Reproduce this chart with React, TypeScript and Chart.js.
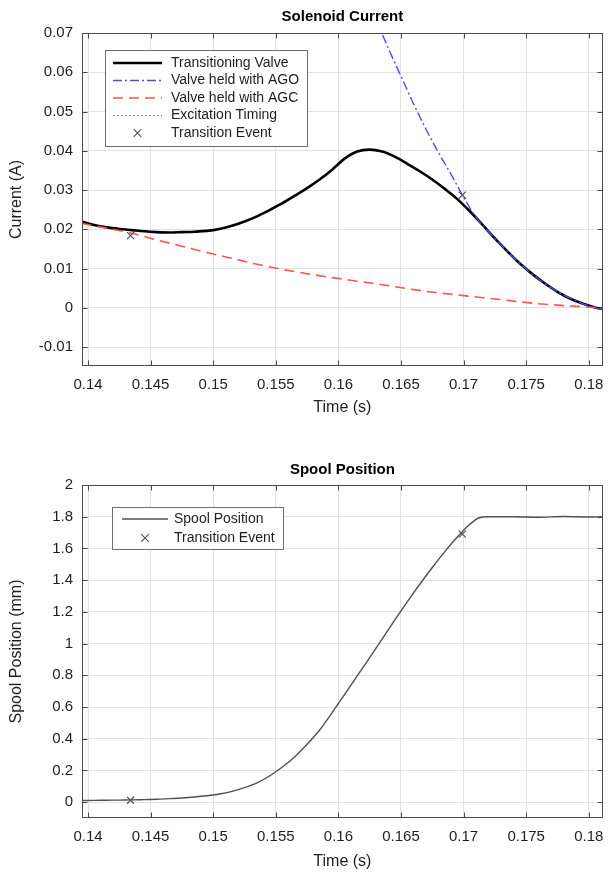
import React, { useEffect, useRef } from "react";
import { Chart, registerables } from "chart.js";

Chart.register(...registerables);

const FONT = "'Liberation Sans', Arial, Helvetica, sans-serif";
const AXIS_COLOR = "#4a4a4a";
const GRID_COLOR = "#e2e2e2";
const TEXT_COLOR = "#1e1e1e";

// ---- shared time axis ----
const timeMin = 0.13952;
const timeMax = 0.18112;
const timeTicks = [0.14, 0.145, 0.15, 0.155, 0.16, 0.165, 0.17, 0.175, 0.18];
const timeTickLabels = ["0.14", "0.145", "0.15", "0.155", "0.16", "0.165", "0.17", "0.175", "0.18"];

// ---- solenoid current axis ----
const currentMin = -0.0148;
const currentMax = 0.07;
const currentTicks = [-0.01, 0, 0.01, 0.02, 0.03, 0.04, 0.05, 0.06, 0.07];
const currentTickLabels = ["-0.01", "0", "0.01", "0.02", "0.03", "0.04", "0.05", "0.06", "0.07"];

// ---- spool position axis ----
const spoolMin = -0.1;
const spoolMax = 2;
const spoolTicks = [0, 0.2, 0.4, 0.6, 0.8, 1, 1.2, 1.4, 1.6, 1.8, 2];
const spoolTickLabels = ["0", "0.2", "0.4", "0.6", "0.8", "1", "1.2", "1.4", "1.6", "1.8", "2"];

// ---- Transitioning Valve current ----
const timeTransitioning = [
  0.1395, 0.1405, 0.1415, 0.1425, 0.1435, 0.1445, 0.1455, 0.1465, 0.1475, 0.1485,
  0.1495, 0.1505, 0.1515, 0.1525, 0.1535, 0.1545, 0.1555, 0.1565, 0.1575, 0.1585,
  0.1595, 0.1605, 0.1615, 0.1625, 0.1635, 0.1645, 0.1655, 0.1665, 0.1675, 0.1685,
  0.1695, 0.1705, 0.1715, 0.1725, 0.1735, 0.1745, 0.1755, 0.1765, 0.1775, 0.1785,
  0.1795, 0.1805, 0.1811,
];
const currentTransitioning = [
  0.0220, 0.0211, 0.0205, 0.0201, 0.0198, 0.0195, 0.0193, 0.0192, 0.0193, 0.0194,
  0.0196, 0.0201, 0.0209, 0.0220, 0.0233, 0.0249, 0.0266, 0.0285, 0.0305, 0.0327,
  0.0352, 0.0380, 0.0398, 0.0403, 0.0398, 0.0385, 0.0367, 0.0348, 0.0327, 0.0303,
  0.0277, 0.0246, 0.0212, 0.0177, 0.0144, 0.0113, 0.0086, 0.0062, 0.0041, 0.0024,
  0.0011, 0.0001, -0.0003,
];

// ---- Valve held with AGO ----
const timeAgo = [
  0.1630, 0.1640, 0.1650, 0.1660, 0.1670, 0.1680, 0.1690, 0.1700, 0.1710, 0.1720,
  0.1730, 0.1740, 0.1750, 0.1760, 0.1770, 0.1780, 0.1790, 0.1800, 0.1811,
];
const currentAgo = [
  0.0735, 0.0660, 0.0590, 0.0520, 0.0455, 0.0395, 0.0340, 0.0282, 0.0230, 0.0194,
  0.0160, 0.0128, 0.0099, 0.0073, 0.0051, 0.0033, 0.0018, 0.0005, -0.0004,
];

// ---- Valve held with AGC ----
const timeAgc = [
  0.1395, 0.1415, 0.1435, 0.1455, 0.1475, 0.1495, 0.1515, 0.1535, 0.1555, 0.1575,
  0.1595, 0.1615, 0.1635, 0.1655, 0.1675, 0.1695, 0.1715, 0.1735, 0.1755, 0.1775,
  0.1795, 0.1811,
];
const currentAgc = [
  0.0215, 0.0203, 0.0190, 0.0173, 0.0157, 0.0141, 0.0126, 0.0111, 0.0098, 0.0087,
  0.0077, 0.0068, 0.0059, 0.0049, 0.0040, 0.0033, 0.0026, 0.0019, 0.0012, 0.0007,
  0.0003, 0.0000,
];

// ---- Excitation Timing (no visible samples in range) ----
const timeExcitation: number[] = [];
const currentExcitation: number[] = [];

// ---- Transition events ----
const timeEvents = [0.1434, 0.1699];
const currentEvents = [0.0184, 0.0287];
const spoolEvents = [0.012, 1.69];

// ---- Spool position ----
const timeSpool = [
  0.1395, 0.1405, 0.1415, 0.1425, 0.1435, 0.1445, 0.1455, 0.1465, 0.1475, 0.1485,
  0.1495, 0.1505, 0.1515, 0.1525, 0.1535, 0.1545, 0.1555, 0.1565, 0.1575, 0.1585,
  0.1595, 0.1605, 0.1615, 0.1625, 0.1635, 0.1645, 0.1655, 0.1665, 0.1675, 0.1685,
  0.1695, 0.1705, 0.1712, 0.1720, 0.1740, 0.1760, 0.1780, 0.1800, 0.1811,
];
const spoolPosition = [
  0.010, 0.011, 0.012, 0.013, 0.014, 0.016, 0.018, 0.022, 0.026, 0.032,
  0.040, 0.051, 0.068, 0.092, 0.122, 0.165, 0.220, 0.285, 0.365, 0.455,
  0.565, 0.680, 0.796, 0.912, 1.030, 1.148, 1.263, 1.374, 1.480, 1.580,
  1.672, 1.752, 1.792, 1.800, 1.800, 1.797, 1.801, 1.798, 1.800,
];

const pts = (xs: number[], ys: number[]) => xs.map((x, i) => ({ x, y: ys[i] }));

const frameLegendPlugin = {
  id: "frameLegend",
  afterDraw(chart: any, _args: any, opts: any) {
    const { ctx, chartArea: a } = chart;
    const xs = chart.scales.x;
    const ys = chart.scales.y;
    ctx.save();
    ctx.setLineDash([]);
    ctx.strokeStyle = AXIS_COLOR;
    ctx.lineWidth = 1;
    const L = Math.round(a.left) + 0.5;
    const R = Math.round(a.right) - 0.5;
    const T = Math.round(a.top) + 0.5;
    const B = Math.round(a.bottom) - 0.5;
    ctx.beginPath();
    xs.ticks.forEach((t: any) => {
      const p = Math.round(xs.getPixelForValue(t.value)) + 0.5;
      ctx.moveTo(p, B);
      ctx.lineTo(p, B - 5);
      ctx.moveTo(p, T);
      ctx.lineTo(p, T + 5);
    });
    ys.ticks.forEach((t: any) => {
      const p = Math.round(ys.getPixelForValue(t.value)) + 0.5;
      ctx.moveTo(L, p);
      ctx.lineTo(L + 5, p);
      ctx.moveTo(R, p);
      ctx.lineTo(R - 5, p);
    });
    ctx.stroke();
    ctx.strokeRect(L, T, R - L, B - T);

    const lg = opts && opts.box;
    if (lg) {
      const bx = Math.round(a.left + lg.x);
      const by = Math.round(a.top + lg.y);
      ctx.fillStyle = "#ffffff";
      ctx.fillRect(bx, by, lg.w, lg.h);
      ctx.strokeStyle = "#6e6e6e";
      ctx.lineWidth = 1;
      ctx.strokeRect(bx + 0.5, by + 0.5, lg.w, lg.h);
      ctx.font = `14px ${FONT}`;
      ctx.textBaseline = "middle";
      ctx.textAlign = "left";
      chart.data.datasets.forEach((ds: any, i: number) => {
        const cy = by + lg.firstRow + i * lg.rowGap;
        const x1 = bx + lg.lineX1;
        const x2 = bx + lg.lineX2;
        if (ds.showLine === false) {
          const cx = (x1 + x2) / 2;
          const r = 3.8;
          ctx.setLineDash([]);
          ctx.strokeStyle = ds.pointBorderColor;
          ctx.lineWidth = ds.pointBorderWidth;
          ctx.beginPath();
          ctx.moveTo(cx - r, cy - r);
          ctx.lineTo(cx + r, cy + r);
          ctx.moveTo(cx + r, cy - r);
          ctx.lineTo(cx - r, cy + r);
          ctx.stroke();
        } else {
          ctx.setLineDash(ds.borderDash || []);
          ctx.strokeStyle = ds.borderColor;
          ctx.lineWidth = ds.borderWidth;
          ctx.beginPath();
          ctx.moveTo(x1, cy);
          ctx.lineTo(x2, cy);
          ctx.stroke();
        }
        ctx.setLineDash([]);
        ctx.fillStyle = TEXT_COLOR;
        ctx.fillText(ds.label, bx + lg.textX, cy);
      });
    }
    ctx.restore();
  },
};

function xScaleOptions(axisHeight: number, titlePadBottom: number) {
  return {
    type: "linear",
    min: timeMin,
    max: timeMax,
    afterBuildTicks: (s: any) => {
      s.ticks = timeTicks.map((v) => ({ value: v }));
    },
    afterFit: (s: any) => {
      s.height = axisHeight;
      s.paddingLeft = 0;
      s.paddingRight = 0;
    },
    ticks: {
      autoSkip: false,
      maxRotation: 0,
      minRotation: 0,
      padding: 10,
      color: TEXT_COLOR,
      font: { family: FONT, size: 15 },
      callback: (_v: any, i: number) => timeTickLabels[i],
    },
    grid: { color: GRID_COLOR, drawTicks: false, lineWidth: 1 },
    border: { display: false },
    title: {
      display: true,
      text: "Time (s)",
      color: TEXT_COLOR,
      font: { family: FONT, size: 16 },
      padding: { top: 0, bottom: titlePadBottom },
    },
  };
}

function yScaleOptions(min: number, max: number, ticks: number[], labels: string[], title: string) {
  return {
    type: "linear",
    min,
    max,
    afterBuildTicks: (s: any) => {
      s.ticks = ticks.map((v) => ({ value: v }));
    },
    afterFit: (s: any) => {
      s.width = 82;
      s.paddingTop = 0;
      s.paddingBottom = 0;
    },
    ticks: {
      autoSkip: false,
      padding: 9,
      color: TEXT_COLOR,
      font: { family: FONT, size: 15 },
      callback: (_v: any, i: number) => labels[i],
    },
    grid: { color: GRID_COLOR, drawTicks: false, lineWidth: 1 },
    border: { display: false },
    title: {
      display: true,
      text: title,
      color: TEXT_COLOR,
      font: { family: FONT, size: 16 },
      padding: { top: 7, bottom: 0 },
    },
  };
}

const lineBase = {
  pointRadius: 0,
  pointHoverRadius: 0,
  fill: false,
  cubicInterpolationMode: "monotone",
};

const eventBase = {
  showLine: false,
  pointStyle: "crossRot",
  pointRadius: 5,
  pointHoverRadius: 5,
  pointBorderColor: "#555555",
  pointBorderWidth: 1.2,
  borderColor: "#555555",
  backgroundColor: "#555555",
};

function CurrentChart() {
  const ref = useRef<HTMLCanvasElement | null>(null);
  useEffect(() => {
    if (!ref.current) return;
    const chart = new Chart(ref.current, {
      type: "line",
      data: {
        datasets: [
          {
            ...lineBase,
            label: "Transitioning Valve",
            data: pts(timeTransitioning, currentTransitioning),
            borderColor: "#000000",
            borderWidth: 2.6,
            order: 3,
          },
          {
            ...lineBase,
            label: "Valve held with AGO",
            data: pts(timeAgo, currentAgo),
            borderColor: "#4b4bff",
            borderWidth: 1.4,
            borderDash: [9, 3, 2, 3],
            order: 1,
          },
          {
            ...lineBase,
            label: "Valve held with AGC",
            data: pts(timeAgc, currentAgc),
            borderColor: "#ff5252",
            borderWidth: 1.6,
            borderDash: [10, 6],
            order: 2,
          },
          {
            ...lineBase,
            label: "Excitation Timing",
            data: pts(timeExcitation, currentExcitation),
            borderColor: "#666666",
            borderWidth: 1.2,
            borderDash: [1.5, 2.5],
            order: 4,
          },
          {
            ...eventBase,
            label: "Transition Event",
            data: pts(timeEvents, currentEvents),
            order: 0,
          },
        ],
      } as any,
      options: {
        animation: false,
        responsive: false,
        events: [],
        layout: { padding: { top: 0, right: 5, left: 0, bottom: 0 } },
        scales: {
          x: xScaleOptions(64, 12.4),
          y: yScaleOptions(currentMin, currentMax, currentTicks, currentTickLabels, "Current (A)"),
        } as any,
        plugins: {
          legend: { display: false },
          tooltip: { enabled: false },
          title: {
            display: true,
            text: "Solenoid Current",
            fullSize: false,
            color: "#000000",
            font: { family: FONT, size: 15, weight: "bold" },
            padding: { top: 8, bottom: 7 },
          },
          frameLegend: {
            box: { x: 23, y: 17, w: 202, h: 96, firstRow: 13, rowGap: 17.5, lineX1: 8, lineX2: 57, textX: 66 },
          },
        } as any,
      },
      plugins: [frameLegendPlugin],
    } as any);
    return () => chart.destroy();
  }, []);
  return <canvas ref={ref} width={609} height={430} style={{ display: "block" }} />;
}

function SpoolChart() {
  const ref = useRef<HTMLCanvasElement | null>(null);
  useEffect(() => {
    if (!ref.current) return;
    const chart = new Chart(ref.current, {
      type: "line",
      data: {
        datasets: [
          {
            ...lineBase,
            label: "Spool Position",
            data: pts(timeSpool, spoolPosition),
            borderColor: "#505050",
            borderWidth: 1.4,
            order: 1,
          },
          {
            ...eventBase,
            label: "Transition Event",
            data: pts(timeEvents, spoolEvents),
            order: 0,
          },
        ],
      } as any,
      options: {
        animation: false,
        responsive: false,
        events: [],
        layout: { padding: { top: 23, right: 5, left: 0, bottom: 0 } },
        scales: {
          x: xScaleOptions(58, 4.4),
          y: yScaleOptions(spoolMin, spoolMax, spoolTicks, spoolTickLabels, "Spool Position (mm)"),
        } as any,
        plugins: {
          legend: { display: false },
          tooltip: { enabled: false },
          title: {
            display: true,
            text: "Spool Position",
            fullSize: false,
            color: "#000000",
            font: { family: FONT, size: 15, weight: "bold" },
            padding: { top: 8, bottom: 6 },
          },
          frameLegend: {
            box: { x: 30, y: 22, w: 171, h: 42, firstRow: 12, rowGap: 19, lineX1: 10, lineX2: 56, textX: 62 },
          },
        } as any,
      },
      plugins: [frameLegendPlugin],
    } as any);
    return () => chart.destroy();
  }, []);
  return <canvas ref={ref} width={609} height={446} style={{ display: "block" }} />;
}

export default function App() {
  return (
    <div style={{ position: "absolute", left: 0, top: 0, width: 609, height: 876, background: "#ffffff" }}>
      <CurrentChart />
      <SpoolChart />
    </div>
  );
}
